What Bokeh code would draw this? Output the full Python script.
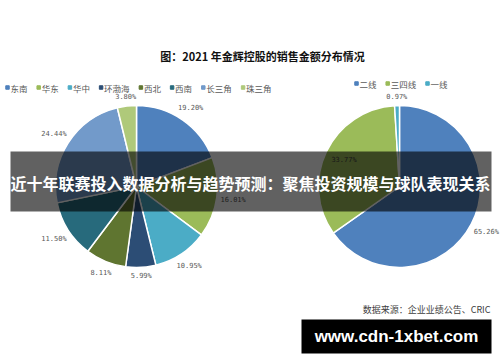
import numpy as np
from bokeh.plotting import figure
from bokeh.models import Range1d, ColumnDataSource
from bokeh.core.properties import value
from bokeh.embed import file_html
from bokeh.resources import INLINE

W, H = 500, 362

# ---- data -------------------------------------------------------------
chart_title = "图：2021 年金辉控股的销售金额分布情况"

region_names = ["东南", "华东", "华中", "环渤海", "西北", "西南", "长三角", "珠三角"]
region_share = [19.20, 16.01, 10.95, 5.99, 8.11, 11.50, 24.44, 3.80]
region_colors = ["#4F81BD", "#9BBB59", "#4BACC6", "#2C4D75",
                 "#5F7530", "#276A7C", "#729ACA", "#AFC97A"]

tier_names = ["二线", "三四线", "一线"]
tier_share = [65.26, 33.77, 0.97]
tier_colors = ["#4F81BD", "#9BBB59", "#4BACC6"]

headline = "近十年联赛投入数据分析与趋势预测：聚焦投资规模与球队表现关系"
source_note = "数据来源：企业业绩公告、CRIC"
site_name = "www.cdn-1xbet.com"

CJK = "Noto Sans CJK SC"


def Y(y_px):
    """Convert a top-down pixel offset to the figure's upward y axis."""
    return H - y_px


p = figure(width=W, height=H, x_range=Range1d(0, W), y_range=Range1d(0, H),
           output_backend="svg", toolbar_location=None, min_border=0)
p.axis.visible = False
p.grid.visible = False
p.outline_line_color = None
p.background_fill_color = "white"
p.border_fill_color = "white"


def draw_pie(cx, cy, r, names, shares, colors, inside=()):
    frac = np.array(shares) / sum(shares)
    cum = np.concatenate([[0.0], np.cumsum(frac)])
    start = np.pi / 2 - 2 * np.pi * cum[:-1]
    end = np.pi / 2 - 2 * np.pi * cum[1:]
    src = ColumnDataSource(dict(name=names, share=shares, color=colors,
                                start=start, end=end))
    p.wedge(x=cx, y=Y(cy), radius=r, start_angle="start", end_angle="end",
            direction="clock", fill_color="color", line_color="white",
            line_width=1.5, source=src)

    mid = (start + end) / 2
    lx, ly, lc, lt = [], [], [], []
    for n, s, a in zip(names, shares, mid):
        if n in inside:
            rr = r * 0.76
            lc.append("#404040")
        else:
            rr = r + 3 + 13 * abs(np.cos(a)) + 5 * abs(np.sin(a))
            lc.append("#595959")
        lx.append(cx + rr * np.cos(a))
        ly.append(Y(cy) + rr * np.sin(a))
        lt.append(f"{s:.2f}%")
    p.text(x=lx, y=ly, text=lt, text_color=lc, text_font=value("DejaVu Sans Mono"),
           text_font_size="7px", text_align="center", text_baseline="middle")


def draw_legend(x0, y, names, colors, fs=8.6, gap=10.5):
    xs_sq, xs_tx = [], []
    x = x0
    for n in names:
        xs_sq.append(x)
        xs_tx.append(x + 3)
        x += 3.5 + len(n) * fs + gap
    ys = [Y(y)] * len(names)
    p.scatter(x=xs_sq, y=ys, marker="square", size=3.5, color=colors)
    p.text(x=xs_tx, y=ys, text=names, text_color="#595959", text_font=value(CJK),
           text_font_size="8.5px", text_align="left", text_baseline="middle")


# title
p.text(x=[262], y=[Y(55)], text=[chart_title], text_color="#111111",
       text_font=value(CJK), text_font_style="bold", text_font_size="11px",
       text_align="center", text_baseline="middle")

# legends
draw_legend(7, 87, region_names, region_colors)
draw_legend(356, 83, tier_names, tier_colors)

# pies
draw_pie(136, 186, 81, region_names, region_share, region_colors)
draw_pie(399, 186, 81, tier_names, tier_share, tier_colors, inside=("三四线",))

# translucent headline banner
p.quad(left=[10], right=[491], bottom=[Y(211)], top=[Y(151)],
       fill_color="black", fill_alpha=0.62, line_color=None)
p.text(x=[250], y=[Y(182.5)], text=[headline], text_color="white",
       text_font=value(CJK), text_font_style="bold", text_font_size="16px",
       text_align="center", text_baseline="middle")

# source note
p.text(x=[490], y=[Y(309)], text=[source_note], text_color="#404040",
       text_font=value(CJK), text_font_size="9px",
       text_align="right", text_baseline="middle")

# site badge
p.quad(left=[301], right=[491], bottom=[Y(353)], top=[Y(319)],
       fill_color="black", line_color=None)
p.text(x=[396], y=[Y(336)], text=[site_name], text_color="white",
       text_font=value("Liberation Sans"), text_font_style="bold",
       text_font_size="17px", text_align="center", text_baseline="middle")

open("out.html", "w").write(file_html(p, INLINE))
